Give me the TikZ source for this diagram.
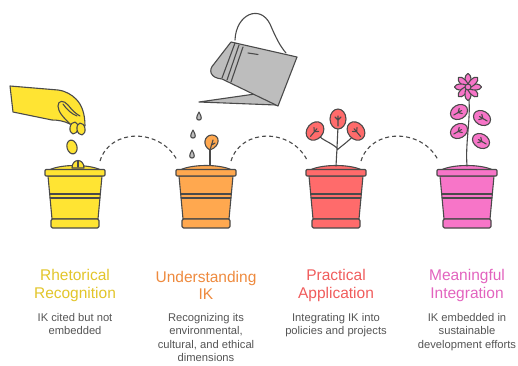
\documentclass[tikz,border=0pt]{standalone}
\usepackage{fontspec}
\setmainfont{Liberation Sans}
\usetikzlibrary{positioning}

\definecolor{outline}{HTML}{4A4A4A}
\definecolor{potyellow}{HTML}{FFE433}
\definecolor{potorange}{HTML}{FFA84F}
\definecolor{potred}{HTML}{FF6B6B}
\definecolor{potpink}{HTML}{F775C8}
\definecolor{txtyellow}{HTML}{E2C52A}
\definecolor{txtorange}{HTML}{EE8A3E}
\definecolor{txtred}{HTML}{F05C5C}
\definecolor{txtpink}{HTML}{E263BE}
\definecolor{cangray}{HTML}{BDBDBD}
\definecolor{desc}{HTML}{555555}

\begin{document}
\begin{tikzpicture}[x=1pt,y=-1pt,
	ink/.style		=	{draw=outline,line width=1.1pt,line join=round,line cap=round},
	title/.style	=	{text=#1,font=\fontsize{15.5}{17.5}\selectfont,align=center},
	note/.style		=	{text=desc,font=\fontsize{11.2}{13.6}\selectfont,align=center},
	hop/.style		=	{draw=outline,line width=1.1pt,dash pattern=on 4pt off 3pt}]

	\useasboundingbox (0,0) rectangle (518,365);

	% the four pots
	\foreach \cx/\col [count=\i] in {75/potyellow,206/potorange,336/potred,467/potpink}{
		\begin{scope}[xshift=\cx pt]
			\fill[\col,ink] (-26,170) .. controls (-14,164) and (14,164) .. (26,170) -- cycle;
			\fill[\col,ink] (-27,176) -- (27,176) -- (23,219) -- (-23,219) -- cycle;
			\draw[ink] (-25.3,194) -- (25.3,194) (-24.9,198) -- (24.9,198);
			\fill[\col,ink,rounded corners=1pt] (-30,169.5) rectangle (30,176);
			\fill[\col,ink,rounded corners=1.5pt] (-24,219) rectangle (24,228);
			\coordinate (pot\i w) at (-29,160);
			\coordinate (pot\i e) at (25,161);
		\end{scope}
	}

	% dashed hops between the pots
	\draw[hop] (pot1e) .. controls (110,128) and (160,128) .. (pot2w);
	\draw[hop] (pot2e) .. controls (241,128) and (291,128) .. (pot3w);
	\draw[hop] (pot3e) .. controls (371,128) and (422,128) .. (pot4w);

	% hand dropping seeds
	\fill[potyellow,ink] (10,86) -- (58,90) .. controls (66,91) and (72,95) .. (76,99)
		.. controls (82,105) and (85,114) .. (85,126) -- (70,124)
		.. controls (64,121) and (58,120) .. (52,120) -- (13,112) -- cycle;
	\draw[ink] (70,124) .. controls (64,118) and (58,112) .. (58,106)
		.. controls (58,100) and (64,100) .. (68,105) .. controls (72,110) and (76,114) .. (80,116);
	\draw[ink] (63,104) .. controls (67,110) and (72,114) .. (77,116);
	\fill[potyellow,ink,rotate around={-10:(74,128)}] (74,128) ellipse (4pt and 6pt);
	\fill[potyellow,ink,rotate around={10:(81,129)}] (81,129) ellipse (4pt and 6pt);
	\fill[potyellow,ink,rotate around={15:(72,147)}] (72,147) ellipse (5pt and 7pt);
	\fill[potyellow,ink] (72,168) .. controls (72,158) and (84,158) .. (84,168) -- cycle;
	\draw[ink] (78,161) -- (78,167);

	% watering can
	\draw[ink,fill=none] (235,40) .. controls (236,14) and (260,4) .. (270,24)
		.. controls (276,38) and (280,46) .. (286,53);
	\fill[cangray,ink] (199,102) -- (262,93) -- (276,105) -- cycle;
	\fill[cangray,ink] (231,42) -- (297,57) -- (278,106) -- (222,79)
		.. controls (210,78) and (208,70) .. (214,64) -- cycle;
	\draw[ink] (235,43) -- (222,78) (239,45) -- (227,80) (243,47) -- (231,82);
	\draw[ink] (248,53) -- (258,54.5);

	% water drops
	\foreach \dx/\dy in {199/117,193/135,192/155}
		\fill[cangray,ink] (\dx,\dy-5) .. controls (\dx+3,\dy) and (\dx+3,\dy+3) .. (\dx,\dy+3)
			.. controls (\dx-3,\dy+3) and (\dx-3,\dy) .. (\dx,\dy-5);

	% sprout
	\draw[ink] (210,165) -- (210,150);
	\fill[potorange,ink] (210,150) .. controls (202,146) and (204,135) .. (212,135)
		.. controls (220,135) and (221,146) .. (210,150) -- cycle;
	\draw[ink] (210,150) -- (213,140) (211.5,145) -- (215,143);

	% young plant
	\draw[ink] (336,166) -- (337,148) .. controls (330,142) and (322,140) .. (318,135)
		(337,148) -- (338,126) (337,150) .. controls (344,144) and (350,140) .. (354,135);
	\foreach \lx/\ly/\la in {315/131/-40,338/119/0,356/131/40}{
		\fill[potred,ink,rotate around={\la:(\lx,\ly)}] (\lx,\ly) ellipse (8pt and 10pt);
		\draw[ink,rotate around={\la:(\lx,\ly)}] (\lx,\ly+7) -- (\lx,\ly-3)
			(\lx,\ly+1) -- (\lx-3,\ly-2) (\lx,\ly+1) -- (\lx+3,\ly-2);
	}

	% grown flower
	\draw[ink] (467,166) .. controls (465,140) and (472,115) .. (468,92);
	\foreach \lx/\ly/\la in {459/112/-60,482/118/60,459/131/-60,481/141/60}{
		\fill[potpink,ink,rotate around={\la:(\lx,\ly)}] (\lx,\ly) ellipse (7pt and 9pt);
		\draw[ink,rotate around={\la:(\lx,\ly)}] (\lx,\ly+6) -- (\lx,\ly-3)
			(\lx,\ly+1) -- (\lx-3,\ly-2) (\lx,\ly+1) -- (\lx+3,\ly-2);
	}
	\foreach \a in {0,45,...,315}
		\fill[potpink,ink,rotate around={\a:(468,87)}] (468,80) ellipse (3pt and 6.5pt);
	\fill[potpink,ink] (468,87) circle (3pt);

	% labels
	\node[title=txtyellow] (t1) at (75,285.5) {Rhetorical\\Recognition};
	\node[title=txtorange] (t2) at (206,285.5) {Understanding\\IK};
	\node[title=txtred]    (t3) at (336,285.5) {Practical\\Application};
	\node[title=txtpink]   (t4) at (467,285.5) {Meaningful\\Integration};

	\node[note,anchor=north] (n1) at (75,309.5) {IK cited but not\\embedded};
	\node[note,anchor=north] (n2) at (206,309.5) {Recognizing its\\environmental,\\cultural, and ethical\\dimensions};
	\node[note,anchor=north] (n3) at (336,309.5) {Integrating IK into\\policies and projects};
	\node[note,anchor=north] (n4) at (467,309.5) {IK embedded in\\sustainable\\development efforts};
\end{tikzpicture}
\end{document}
